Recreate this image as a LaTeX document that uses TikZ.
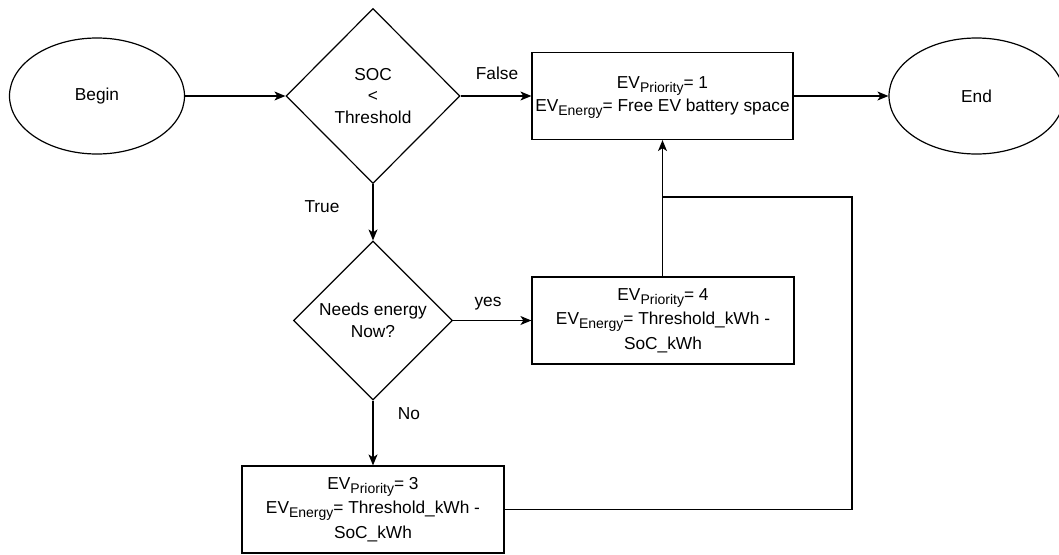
\documentclass[tikz,border=0pt]{standalone}
\usepackage{fontspec}
\setmainfont{Liberation Sans}
\usetikzlibrary{shapes.geometric,arrows.meta}
\newcommand\evsub[1]{EV\smash{\raisebox{-4pt}{\fontsize{14}{14}\selectfont #1}}}
\begin{document}
\begin{tikzpicture}[
    x=1pt, y=-1pt, line width=1.2pt,
    every node/.style={font=\fontsize{17.3}{21.5}\selectfont},
    terminal/.style={draw,ellipse,minimum width=175,minimum height=116,inner sep=0pt},
    decision/.style={draw,diamond,align=center,inner sep=0pt},
    process/.style={draw,rectangle,align=center,inner sep=0pt,
        minimum width=262,minimum height=87,font=\fontsize{17.3}{24.5}\selectfont},
    flow/.style={-{Stealth[length=11pt,width=9pt,inset=3pt]}},
    tag/.style={inner sep=0pt}]
    \useasboundingbox (0,0) rectangle (1059,554);

    % Fila superior: inicio, comparacion, prioridad 1, fin.
    \node[terminal] (begin) at (97,96) {Begin};
    \node[decision,minimum width=174,minimum height=175] (soc) at (373,96)
        {SOC\\<\\Threshold};
    \node[process,minimum width=261,font=\fontsize{17.3}{23}\selectfont] (ev1)
        at (662.5,96) {\evsub{Priority}= 1\\\evsub{Energy}= Free EV battery space};
    \node[terminal] (end) at (976.5,96) {End};

    % Segunda decision y sus dos ramas.
    \node[decision,minimum width=159,minimum height=159] (needs) at (373,320.5)
        {Needs energy\\Now?};
    \node[process] (ev4) at (663,320.5)
        {\evsub{Priority}= 4\\\evsub{Energy}= Threshold\_kWh -\\SoC\_kWh};
    \node[process] (ev3) at (373,509.5)
        {\evsub{Priority}= 3\\\evsub{Energy}= Threshold\_kWh -\\SoC\_kWh};
    \coordinate (loop) at (852,197);

    \draw[flow] (begin) -- (soc);
    \draw[flow] (soc.east) -- (ev1.west);
    \draw[flow] (ev1) -- (end);
    \draw[flow] (soc.south) -- (needs.north);
    \draw[flow] (needs.east) -- (ev4.west);
    \draw[flow] (needs.south) -- (ev3.north);
    \draw[flow] (ev4.north -| ev1.south) -- (ev1.south);
    \draw (ev3.east) -| (loop) -- (loop -| ev1.south);

    \node[tag] (lfalse) at (497,73) {False};
    \node[tag] (ltrue) at (322,207) {True};
    \node[tag] (lyes) at (488,304) {yes};
    \node[tag] (lno) at (409,414) {No};
\end{tikzpicture}
\end{document}
